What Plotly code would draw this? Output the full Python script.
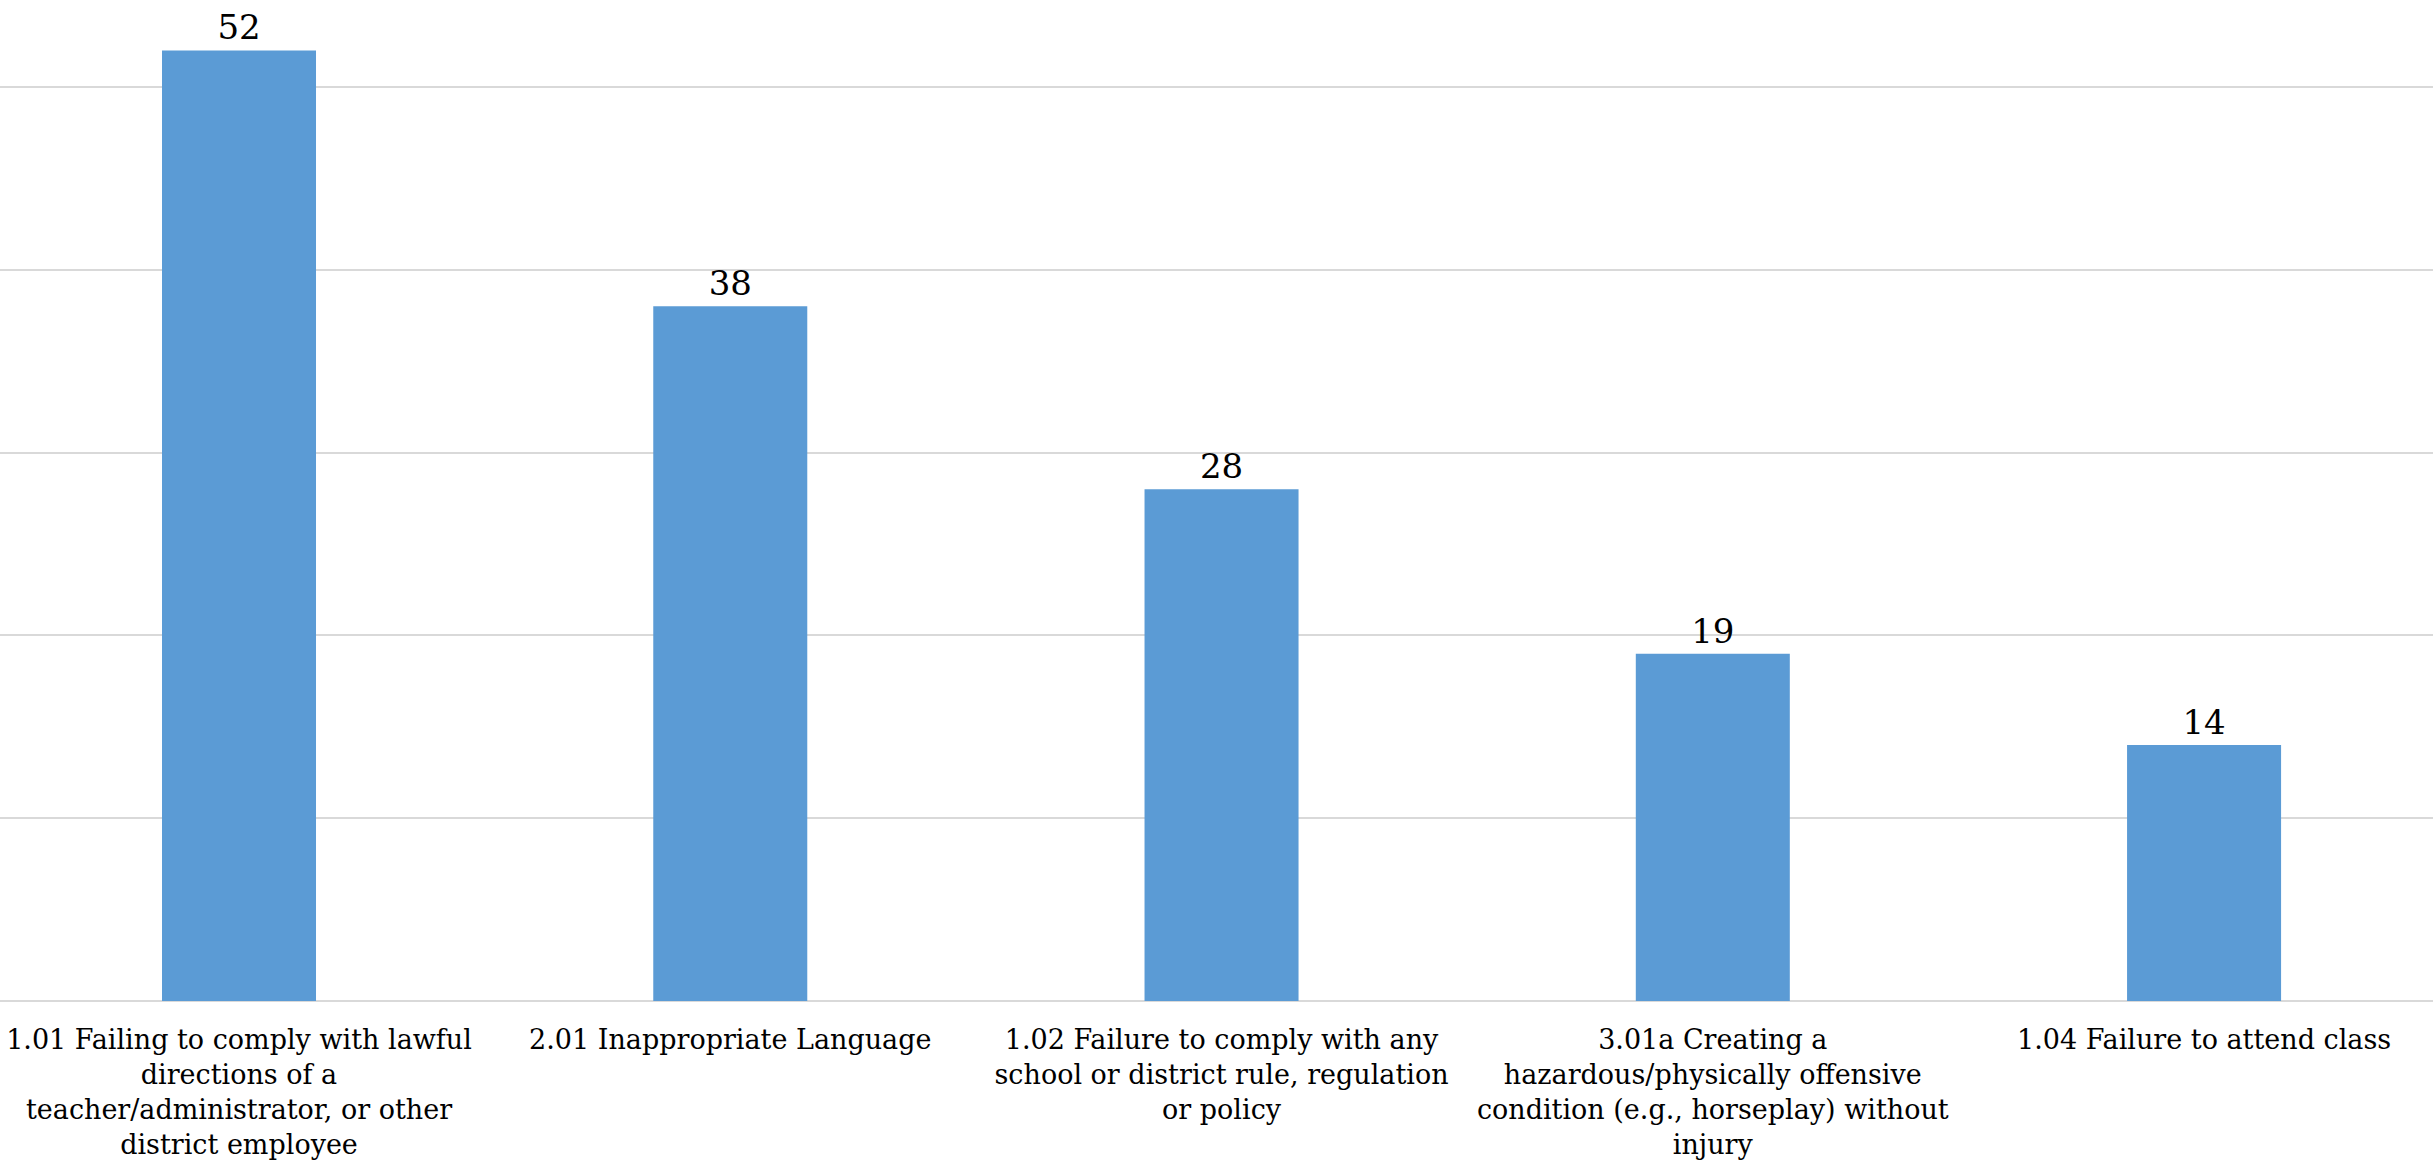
import plotly.graph_objects as go

categories = [
    "1.01 Failing to comply with lawful<br>directions of a<br>teacher/administrator, or other<br>district employee",
    "2.01 Inappropriate Language",
    "1.02 Failure to comply with any<br>school or district rule, regulation<br>or policy",
    "3.01a Creating a<br>hazardous/physically offensive<br>condition (e.g., horseplay) without<br>injury",
    "1.04 Failure to attend class",
]
values = [52, 38, 28, 19, 14]

FONT = "DejaVu Serif, Georgia, serif"

fig = go.Figure(
    go.Bar(
        x=categories,
        y=values,
        marker=dict(color="#5B9BD5", line=dict(width=0)),
        text=[str(v) for v in values],
        textposition="outside",
        textfont=dict(family=FONT, size=34, color="#000000"),
        cliponaxis=False,
    )
)

fig.update_layout(
    width=2433,
    height=1168,
    margin=dict(l=0, r=0, t=0, b=167, autoexpand=False),
    paper_bgcolor="#FFFFFF",
    plot_bgcolor="#FFFFFF",
    bargap=0.6865,
    showlegend=False,
    font=dict(family=FONT, size=27, color="#000000"),
)

fig.update_xaxes(
    range=[-0.4865, 4.466],
    tickangle=0,
    showgrid=False,
    showline=False,
    ticks="",
    automargin=False,
    ticklabelstandoff=20,
    tickfont=dict(family=FONT, size=27, color="#000000"),
)

fig.update_yaxes(
    range=[0, 54.76],
    dtick=10,
    showticklabels=False,
    automargin=False,
    showgrid=True,
    gridcolor="#D9D9D9",
    gridwidth=2,
    zeroline=True,
    zerolinecolor="#D9D9D9",
    zerolinewidth=2,
    showline=False,
)

fig.write_html(
    "out.html",
    config={"displayModeBar": False},
    post_script="document.body.style.margin='0';document.body.style.padding='0';document.body.style.overflow='hidden';",
)
